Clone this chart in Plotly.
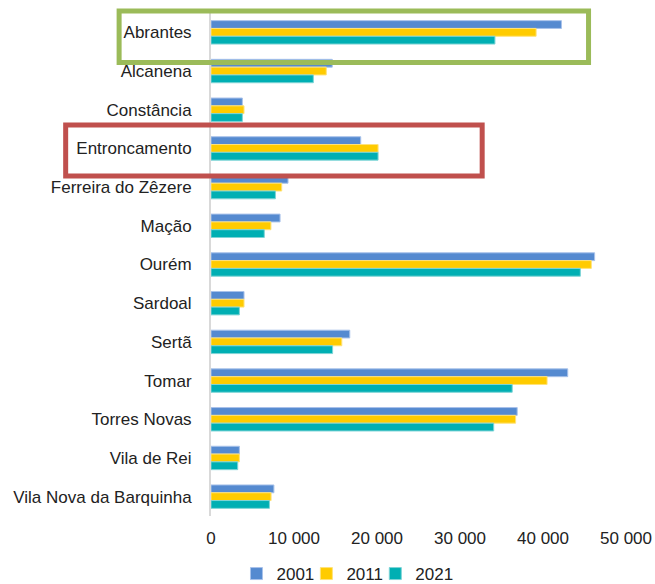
import plotly.graph_objects as go

categories = ["Abrantes", "Alcanena", "Constância", "Entroncamento", "Ferreira do Zêzere",
              "Mação", "Ourém", "Sardoal", "Sertã", "Tomar", "Torres Novas",
              "Vila de Rei", "Vila Nova da Barquinha"]
pop_2001 = [42220, 14610, 3780, 18040, 9280, 8320, 46220, 3980, 16720, 42980, 36890, 3420, 7580]
pop_2011 = [39170, 13890, 3980, 20130, 8520, 7220, 45820, 3980, 15760, 40490, 36700, 3420, 7240]
pop_2021 = [34210, 12330, 3780, 20130, 7760, 6420, 44500, 3420, 14650, 36290, 34060, 3220, 7040]
series_names = ["2001", "2011", "2021"]

colors = ["#558AD0", "#FFCB00", "#00AFB3"]
edge = ["#A8C2EA", "#FFE27A", "#7ED4D6"]
legend_ids = ["legend", "legend2", "legend3"]

fig = go.Figure()
for name, vals, c, e, lg in zip(series_names, [pop_2001, pop_2011, pop_2021], colors, edge, legend_ids):
    fig.add_trace(go.Bar(
        y=categories, x=vals, name=name, orientation="h", legend=lg,
        marker=dict(color=c, line=dict(color=e, width=1)),
    ))

W, H = 655, 584
L, R, T, B = 210.5, 29, 13, 68
pw = W - L - R
ph = H - T - B

def px_to_paper_x(px):
    return (px - L) / pw

def px_to_paper_y(py):
    return (T + ph - py) / ph

legend_left_px = [236, 306, 375]
legend_cfg = {}
for lg, lx in zip(legend_ids, legend_left_px):
    legend_cfg[lg] = dict(
        orientation="h", x=px_to_paper_x(lx), xanchor="left",
        y=px_to_paper_y(556), yanchor="top", font=dict(size=17),
        itemwidth=30, bgcolor="rgba(0,0,0,0)", borderwidth=0)

fig.update_layout(
    width=W, height=H,
    margin=dict(l=L, r=R, t=T, b=B, autoexpand=False),
    paper_bgcolor="white", plot_bgcolor="white",
    font=dict(family="Liberation Sans, Arial, sans-serif", size=17, color="#222222"),
    barmode="group", bargap=0.395, bargroupgap=0,
    separators=", ",
    showlegend=True,
    xaxis=dict(range=[0, 50000], dtick=10000, tickformat=",d", showgrid=False,
               zeroline=False, showline=False, ticks="", ticklabelstandoff=10,
               fixedrange=True, automargin=False),
    yaxis=dict(categoryorder="array", categoryarray=categories, autorange="reversed",
               showgrid=False, zeroline=False, showline=True, linecolor="#D9D9D9",
               linewidth=2, ticks="", ticklabelstandoff=14, automargin=False),
    **legend_cfg,
)

# highlight boxes (green around Abrantes, red around Entroncamento)
fig.add_shape(type="rect", xref="paper", yref="paper",
              x0=px_to_paper_x(118.5), x1=px_to_paper_x(588.5),
              y0=px_to_paper_y(62.5), y1=px_to_paper_y(11),
              line=dict(color="#9BBB59", width=5), layer="above")
fig.add_shape(type="rect", xref="paper", yref="paper",
              x0=px_to_paper_x(65), x1=px_to_paper_x(482),
              y0=px_to_paper_y(176), y1=px_to_paper_y(125),
              line=dict(color="#C0504D", width=5), layer="above")

fig.write_html("out.html",
               config={"displayModeBar": False},
               post_script="document.body.style.margin='0px';document.body.style.overflow='hidden';")
